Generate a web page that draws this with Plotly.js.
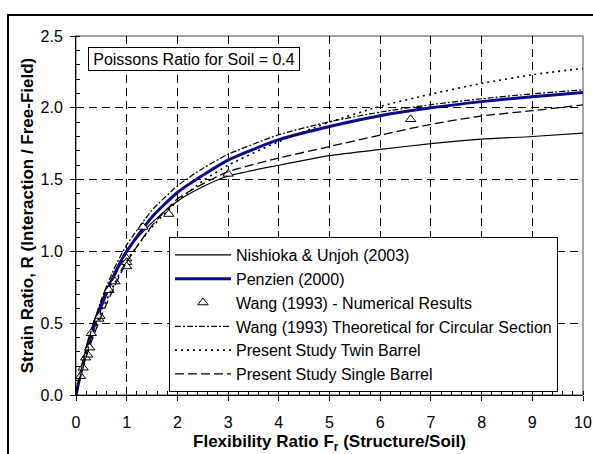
<!DOCTYPE html>
<html>
<head>
<meta charset="utf-8">
<script src="https://cdn.plot.ly/plotly-3.0.1.min.js"></script>
<style>html,body{margin:0;padding:0;background:#fff;}#chart{width:593px;height:454px;}</style>
</head>
<body>
<div id="chart"></div>
<script>
// Flexibility ratio sample points for the curves
const xCurve = [0, 0.1, 0.25, 0.5, 0.75, 1, 1.5, 2, 2.5, 3, 4, 5, 6, 7, 8, 9, 10];
const nishioka = [0, 0.18, 0.40, 0.65, 0.85, 1.01, 1.20, 1.35, 1.45, 1.525, 1.60, 1.667, 1.71, 1.75, 1.782, 1.80, 1.823];
const penzien = [0, 0.16, 0.36, 0.62, 0.83, 1.0, 1.24, 1.41, 1.53, 1.636, 1.778, 1.87, 1.945, 2.0, 2.043, 2.077, 2.106];
const wangTheory = [0, 0.172, 0.388, 0.665, 0.878, 1.045, 1.287, 1.456, 1.578, 1.676, 1.812, 1.903, 1.97, 2.022, 2.063, 2.097, 2.125];
const twinBarrel = [0, 0.15, 0.34, 0.58, 0.77, 0.935, 1.17, 1.35, 1.49, 1.60, 1.765, 1.90, 2.01, 2.095, 2.17, 2.23, 2.275];
const singleBarrel = [0, 0.14, 0.32, 0.55, 0.75, 0.925, 1.18, 1.365, 1.47, 1.555, 1.65, 1.73, 1.81, 1.885, 1.943, 1.98, 2.02];
// Wang (1993) numerical results
const wangNumX = [0.09, 0.14, 0.19, 0.23, 0.27, 0.30, 0.45, 0.47, 0.65, 0.77, 1.0, 1.0, 1.0, 1.32, 1.83, 3.0, 6.6];
const wangNumY = [0.13, 0.19, 0.26, 0.28, 0.33, 0.43, 0.53, 0.55, 0.73, 0.79, 0.95, 0.925, 0.895, 1.17, 1.26, 1.54, 1.92];
const names = ["Nishioka & Unjoh (2003)", "Penzien (2000)", "Wang (1993) - Numerical Results",
  "Wang (1993) Theoretical for Circular Section", "Present Study Twin Barrel", "Present Study Single Barrel"];
const xTicks = [0,1,2,3,4,5,6,7,8,9,10];
const yTicks = [0.0,0.5,1.0,1.5,2.0,2.5];

const FONT = "Liberation Sans, Arial, sans-serif";
function lineTrace(y, name, grp, line){
  return {x: xCurve, y: y, name: name, legendgroup: grp, mode: 'lines', type: 'scatter',
          line: Object.assign({shape: 'spline', smoothing: 0.6}, line)};
}
const traces = [
  lineTrace(nishioka, names[0], 'a', {color: '#000', width: 1.2}),
  lineTrace(penzien, names[1], 'b', {color: '#0a0a8a', width: 3}),
  {x: wangNumX, y: wangNumY, name: names[2], legendgroup: 'c', mode: 'markers', type: 'scatter',
   marker: {symbol: 'triangle-up', size: 9, color: '#fff', line: {color: '#000', width: 1}}},
  lineTrace(wangTheory, names[3], 'd', {color: '#000', width: 1.2, dash: '6px,2px,2px,2px'}),
  lineTrace(twinBarrel, names[4], 'e', {color: '#000', width: 1.6, dash: '2px,4px'}),
  lineTrace(singleBarrel, names[5], 'f', {color: '#000', width: 1.3, dash: '9px,4px'})
];

const axBase = {
  showline: true, linecolor: '#000', linewidth: 1,
  ticks: 'outside', ticklen: 5, tickcolor: '#000', tickwidth: 1,
  showgrid: true, gridcolor: '#000', gridwidth: 1, griddash: '8px,5px',
  zeroline: false, tickfont: {family: FONT, size: 16, color: '#000'}
};
const layout = {
  width: 593, height: 454,
  margin: {l: 76, r: 10, t: 36, b: 59},
  paper_bgcolor: '#fff', plot_bgcolor: '#fff',
  font: {family: FONT, color: '#000'},
  showlegend: true,
  xaxis: Object.assign({}, axBase, {
    range: [0, 10], tickvals: xTicks, ticktext: xTicks.map(String), ticklabelstandoff: 8,
    minor: {dtick: 0.2, ticks: 'inside', ticklen: 4, tickcolor: '#000', showgrid: false},
    title: {text: '<b>Flexibility Ratio F<sub>r</sub> (Structure/Soil)</b>', font: {family: FONT, size: 17, color: '#000'}, standoff: 8}
  }),
  yaxis: Object.assign({}, axBase, {
    range: [0, 2.5], tickvals: yTicks, ticktext: yTicks.map(v => v.toFixed(1)), ticklabelstandoff: 4,
    minor: {dtick: 0.1, ticks: 'inside', ticklen: 4, tickcolor: '#000', showgrid: false},
    title: {text: '<b>Strain Ratio, R (Interaction / Free-Field)</b>', font: {family: FONT, size: 17, color: '#000'}, standoff: 2}
  }),
  legend: {
    x: 0.1834, y: 0.44, xanchor: 'left', yanchor: 'top',
    bgcolor: '#fff', bordercolor: '#000', borderwidth: 1,
    font: {family: FONT, size: 16, color: '#000'},
    traceorder: 'grouped', tracegroupgap: 0, itemwidth: 56
  },
  annotations: [{
    xref: 'paper', yref: 'paper', x: 0.2327, y: 0.936, xanchor: 'center', yanchor: 'middle',
    text: 'Poissons Ratio for Soil = 0.4', showarrow: false,
    font: {family: FONT, size: 16, color: '#000'},
    bgcolor: '#fff', bordercolor: '#000', borderwidth: 1, width: 208, height: 20, borderpad: 1
  }],
  shapes: [
    {type: 'rect', xref: 'paper', yref: 'paper', x0: 0, x1: 1, y0: 0, y1: 1,
     line: {color: '#888', width: 1.5}, layer: 'below'},
    {type: 'rect', xref: 'paper', yref: 'paper', x0: -0.1341, x1: 1.1, y0: -0.25, y1: 1.0585,
     line: {color: '#000', width: 2}, layer: 'below'}
  ]
};
Plotly.newPlot('chart', traces, layout, {displayModeBar: false, staticPlot: true});
</script>
</body>
</html>
